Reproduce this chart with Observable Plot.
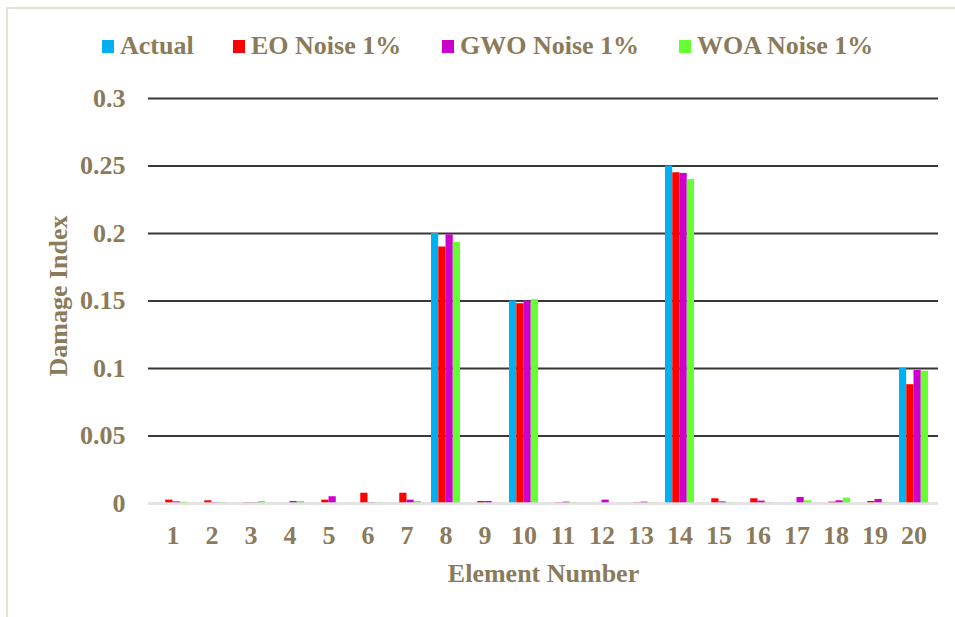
<!DOCTYPE html>
<html>
<head>
<meta charset="utf-8">
<script src="https://cdn.jsdelivr.net/npm/d3@7"></script>
<script src="https://cdn.jsdelivr.net/npm/@observablehq/plot@0.6"></script>
<style>
  html, body { margin: 0; padding: 0; background: #fff; }
  #wrap { position: relative; width: 955px; height: 617px; overflow: hidden; font-family: 'Liberation Serif', 'Times New Roman', serif; }
  #frame { position: absolute; left: 6px; top: 7px; width: 960px; height: 620px; border-left: 2px solid #e6e2da; border-top: 2px solid #e6e2da; pointer-events: none; }
  #legend { position: relative; height: 70px; }
  .item { position: absolute; top: 33px; display: flex; align-items: center; height: 26px; line-height: 26px; font-size: 26px; font-weight: bold; color: #8b7b5a; white-space: nowrap; }
  .sw { display: inline-block; width: 12px; height: 13px; margin-right: 6px; }
  svg { display: block; }
</style>
</head>
<body>
<div id="wrap">
  <div id="frame"></div>
  <div id="legend"></div>
  <div id="chart"></div>
</div>
<script>
// ---- data ----
const elements = [1,2,3,4,5,6,7,8,9,10,11,12,13,14,15,16,17,18,19,20];
const seriesNames = ["Actual", "EO Noise 1%", "GWO Noise 1%", "WOA Noise 1%"];
const seriesColors = ["#00B0F0", "#FF0000", "#CC00CC", "#66FF33"];
const actual = [0,0,0,0,0,0,0,0.2,0,0.15,0,0,0,0.25,0,0,0,0,0,0.1];
const eo     = [0.0025,0.002,0.0005,0,0.0025,0.0076,0.0076,0.19,0.0015,0.148,0.0005,0,0.0005,0.245,0.0035,0.0035,0,0.001,0.0015,0.088];
const gwo    = [0.0012,0.0005,0.0005,0.0015,0.005,0.0005,0.0025,0.199,0.0015,0.15,0.001,0.0025,0.001,0.2445,0.0012,0.0018,0.0045,0.002,0.003,0.0985];
const woa    = [0.001,0.0005,0.0015,0.0015,0,0.0005,0.0015,0.1935,0,0.151,0.0005,0,0.0003,0.24,0.0005,0.0005,0.002,0.004,0.0005,0.098];
const yTicks = [0, 0.05, 0.1, 0.15, 0.2, 0.25, 0.3];
const gridTicks = [0.05, 0.1, 0.15, 0.2, 0.25, 0.3];
const xTitle = "Element Number";
const yTitle = "Damage Index";

const allSeries = [actual, eo, gwo, woa];

// ---- legend ----
const legendLeft = [102, 233, 442, 679];
const legend = document.getElementById("legend");
seriesNames.forEach((name, i) => {
  const it = document.createElement("div");
  it.className = "item";
  it.style.left = legendLeft[i] + "px";
  const sw = document.createElement("span");
  sw.className = "sw";
  sw.style.background = seriesColors[i];
  it.appendChild(sw);
  it.appendChild(document.createTextNode(name));
  legend.appendChild(it);
});

// ---- chart ----
const W = 955, H = 547, mL = 148, mR = 17, mT = 28, mB = 114;
const padIn = 0.265;
const step = (W - mL - mR) / elements.length;
const barW = step * (1 - padIn) / seriesNames.length;

const textColor = "#8b7b5a";
const font = "'Liberation Serif', 'Times New Roman', serif";

const barMarks = allSeries.map((vals, i) =>
  Plot.barY(elements.map((e, k) => ({element: e, value: vals[k]})), {
    x: "element",
    y: "value",
    fill: seriesColors[i],
    insetLeft: i * barW,
    insetRight: (seriesNames.length - 1 - i) * barW
  })
);

const chart = Plot.plot({
  width: W,
  height: H,
  marginLeft: mL,
  marginRight: mR,
  marginTop: mT,
  marginBottom: mB,
  style: {fontFamily: font, fontWeight: "bold", fontSize: "26px", color: textColor, background: "white", overflow: "visible"},
  x: {type: "band", domain: elements, paddingInner: padIn, paddingOuter: padIn / 2, align: 0.5, axis: null},
  y: {domain: [0, 0.3], axis: null},
  marks: [
    Plot.ruleY(gridTicks, {stroke: "#3a3632", strokeWidth: 2}),
    ...barMarks,
    Plot.ruleY([0], {stroke: "#d9d9d9", strokeWidth: 3, strokeOpacity: 0.75}),
    Plot.axisY(yTicks, {anchor: "left", tickSize: 0, tickPadding: 23, tickFormat: d => String(d), fontSize: 26, label: null, fill: textColor}),
    Plot.axisX(elements, {anchor: "bottom", tickSize: 0, tickPadding: 22, fontSize: 26, label: null, fill: textColor}),
    Plot.text([xTitle], {frameAnchor: "bottom", dy: 70, lineAnchor: "middle", textAnchor: "middle", fontSize: 26, fontWeight: "bold", fill: textColor}),
    Plot.text([yTitle], {frameAnchor: "left", dx: -90, dy: -5, rotate: -90, lineAnchor: "middle", textAnchor: "middle", fontSize: 26, fontWeight: "bold", fill: textColor})
  ]
});
document.getElementById("chart").appendChild(chart);
</script>
</body>
</html>
